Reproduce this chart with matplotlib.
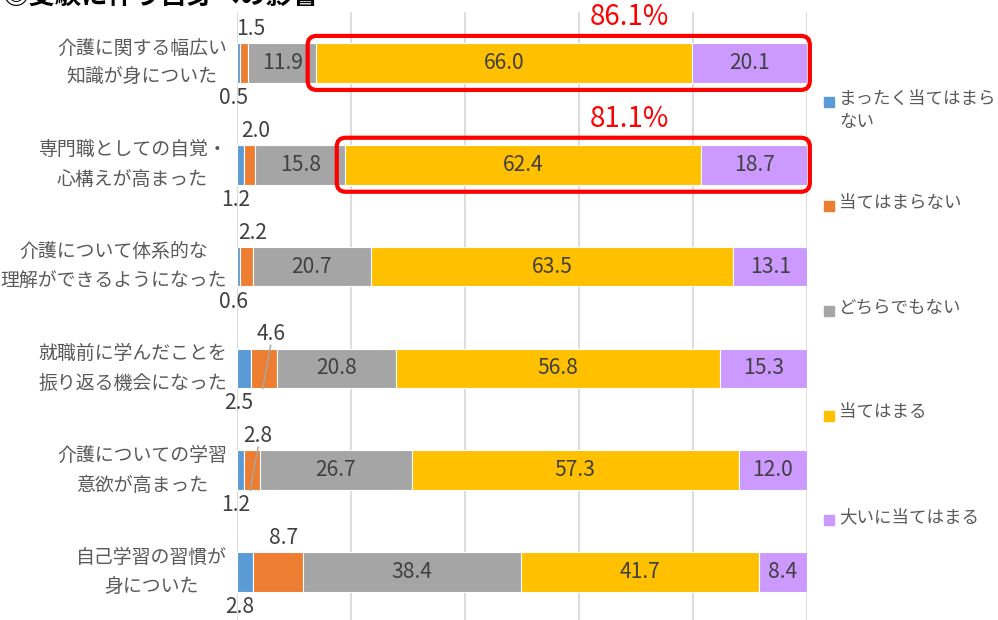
import numpy as np
import matplotlib
matplotlib.use('Agg')
import matplotlib.pyplot as plt
from matplotlib.patches import FancyBboxPatch, Rectangle
from matplotlib.transforms import IdentityTransform

plt.rcParams['font.family'] = ['Noto Sans CJK JP', 'DejaVu Sans']

title = '◎受験に伴う自身への影響'
categories = [
    '介護に関する幅広い\n知識が身についた',
    '専門職としての自覚・\n心構えが高まった',
    '介護について体系的な\n理解ができるようになった',
    '就職前に学んだことを\n振り返る機会になった',
    '介護についての学習\n意欲が高まった',
    '自己学習の習慣が\n身についた',
]
series_names = ['まったく当てはまらない', '当てはまらない', 'どちらでもない',
                '当てはまる', '大いに当てはまる']
never = [0.5, 1.2, 0.6, 2.5, 1.2, 2.8]
not_really = [1.5, 2.0, 2.2, 4.6, 2.8, 8.7]
neutral = [11.9, 15.8, 20.7, 20.8, 26.7, 38.4]
agree = [66.0, 62.4, 63.5, 56.8, 57.3, 41.7]
strongly = [20.1, 18.7, 13.1, 15.3, 12.0, 8.4]
highlight_rows = [0, 1]
leader_rows = [3, 4]

colors = ['#5B9BD5', '#ED7D31', '#A5A5A5', '#FFC000', '#CC99FF']
text_col = '#404040'
label_col = '#595959'

values = np.array([never, not_really, neutral, agree, strongly])
n = len(categories)
y = np.arange(n)

fig = plt.figure(figsize=(9.98, 6.2), dpi=100)
W, H = 998, 620
ax = fig.add_axes([237 / W, -3 / H, 570 / W, 611 / H])
ax.set_xlim(0, 100)
ax.set_ylim(n - 0.5, -0.5)
for s in ax.spines.values():
    s.set_visible(False)
ax.set_xticks(np.arange(0, 101, 20))
ax.set_xticklabels([])
ax.set_yticks([])
ax.tick_params(length=0)
ax.grid(axis='x', color='#D9D9D9', lw=1.3)
ax.set_axisbelow(True)

left = np.zeros(n)
for k in range(5):
    ax.barh(y, values[k], left=left, height=0.39, color=colors[k],
            edgecolor='white', lw=0.8, zorder=2)
    left = left + values[k]
starts = np.cumsum(np.vstack([np.zeros(n), values[:-1]]), axis=0)

px = 1 / 101.8  # one pixel in row units
fs = 15.2
for i in range(n):
    # inside labels
    for k in (2, 3, 4):
        ax.text(starts[k, i] + values[k, i] / 2, i, f'{values[k, i]:.1f}',
                ha='center', va='center', fontsize=fs, color=text_col, zorder=4)
    # first series: below the bar
    c0 = starts[0, i] + values[0, i] / 2
    ax.text(c0 - 0.9, i + 35 * px, f'{values[0, i]:.1f}', ha='center',
            va='center', fontsize=fs, color=text_col, zorder=4)
    # second series: above the bar
    c1 = starts[1, i] + values[1, i] / 2
    lx = c1 + 1.1
    ax.text(lx, i - 34 * px, f'{values[1, i]:.1f}', ha='center',
            va='center', fontsize=fs, color=text_col, zorder=4)
    if i in leader_rows:
        ax.plot([lx, c1 - 0.3], [i - 23 * px, i + 20 * px], color='#A6A6A6',
                lw=1.1, zorder=3)

fig.canvas.draw()
to_px = ax.transData
for i in highlight_rows:
    x0, yt = to_px.transform((starts[3, i] - 1.5, i - 27 * px))
    x1, yb = to_px.transform((100.5, i + 27 * px))
    box = FancyBboxPatch((x0, yb), x1 - x0, yt - yb,
                         boxstyle='round,pad=0,rounding_size=9',
                         transform=IdentityTransform(), fill=False,
                         edgecolor='#FF0000', lw=3, zorder=5, clip_on=False)
    fig.patches.append(box)
    total = values[3, i] + values[4, i]
    ax.text(68.8, i - 46 * px, f'{total:.1f}%', ha='center', va='center',
            fontsize=20, color='#FF0000', zorder=6, clip_on=False)

# category labels
for i, cat in enumerate(categories):
    ax.text(-1.8, i, cat, ha='right', va='center', multialignment='center',
            fontsize=13.6, color=label_col, linespacing=1.55)

# legend
for k, name in enumerate(series_names):
    yc = 1 - (102 + k * 104.5) / H
    fig.patches.append(Rectangle((824 / W, yc - 5 / H), 10 / W, 10 / H,
                                 transform=fig.transFigure, color=colors[k]))
    label = name if len(name) <= 9 else name[:9] + '\n' + name[9:]
    fig.text(839 / W, yc + 12 / H, label, ha='left', va='top', fontsize=12.6,
             color=label_col, linespacing=1.35)

fig.text(3 / W, 1 - 4 / H, title, ha='left', va='baseline', fontsize=19,
         fontweight='bold', color='black')

fig.savefig('out.png', dpi=100)
